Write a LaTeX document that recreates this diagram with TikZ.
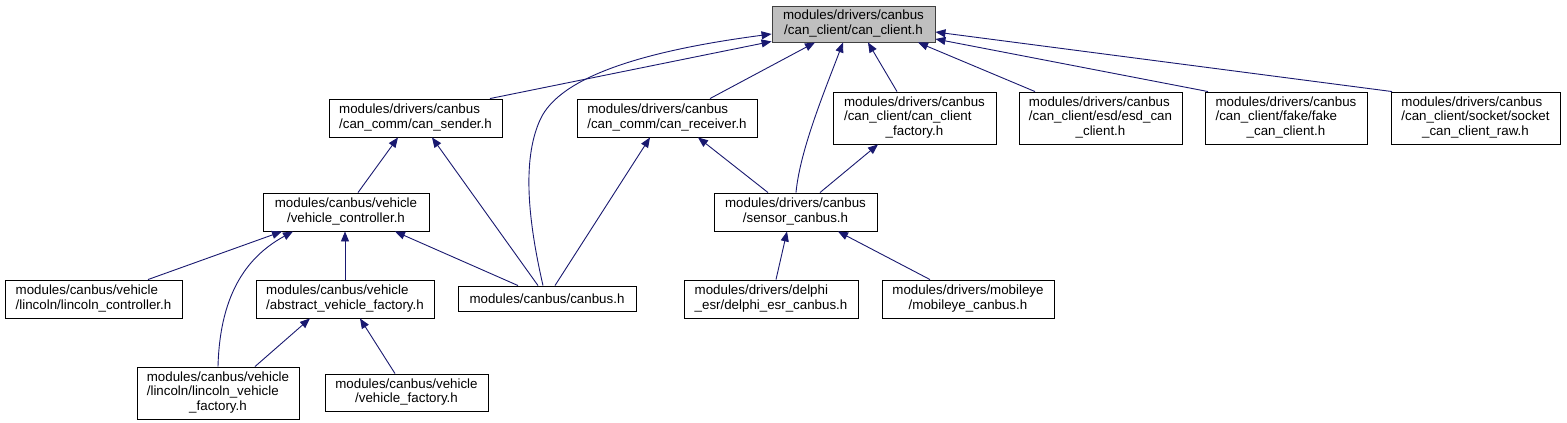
\documentclass[tikz,border=0pt]{standalone}
\usepackage{fontspec}
\setmainfont{Liberation Sans}
\usetikzlibrary{arrows.meta}
\definecolor{edgeblue}{HTML}{191970}
\definecolor{rootfill}{HTML}{BFBFBF}
\definecolor{rootline}{HTML}{404040}
\newcommand{\twol}[2]{\begin{tabular}{@{}l@{}}#1\\\multicolumn{1}{@{}c@{}}{#2}\end{tabular}}
\newcommand{\threel}[3]{\begin{tabular}{@{}l@{}}#1\\#2\\\multicolumn{1}{@{}c@{}}{#3}\end{tabular}}
\begin{document}
\begin{tikzpicture}[x=1pt,y=-1pt,
  filebox/.style={draw=black, fill=white, line width=0.9pt, inner sep=0pt,
    font=\fontsize{13.33}{14.5}\selectfont, align=center},
  rootbox/.style={filebox, fill=rootfill, draw=rootline},
  edge/.style={draw=edgeblue, line width=0.9pt,
    -{Triangle[length=10pt,width=8pt]}, fill=none},
  edge/.append style={arrows={-{Triangle[length=10pt,width=8pt,fill=edgeblue]}}}
]
\useasboundingbox[fill=white] (0,0) rectangle (1567,423);

\node[rootbox, minimum width=163pt, minimum height=36pt] (root) at (853.5,24) {\twol{modules/drivers/canbus}{/can\_client/can\_client.h}};

\node[filebox, minimum width=173pt, minimum height=38pt] (sender) at (415.5,118) {\twol{modules/drivers/canbus}{/can\_comm/can\_sender.h}};
\node[filebox, minimum width=180pt, minimum height=38pt] (receiver) at (667,118) {\twol{modules/drivers/canbus}{/can\_comm/can\_receiver.h}};
\node[filebox, minimum width=163pt, minimum height=52pt] (factory) at (914.5,118) {\threel{modules/drivers/canbus}{/can\_client/can\_client}{\_factory.h}};
\node[filebox, minimum width=163pt, minimum height=52pt] (esd) at (1100.5,118) {\threel{modules/drivers/canbus}{/can\_client/esd/esd\_can}{\_client.h}};
\node[filebox, minimum width=162pt, minimum height=52pt] (fake) at (1286,118) {\threel{modules/drivers/canbus}{/can\_client/fake/fake}{\_can\_client.h}};
\node[filebox, minimum width=169pt, minimum height=52pt] (socket) at (1475.5,118) {\threel{modules/drivers/canbus}{/can\_client/socket/socket}{\_can\_client\_raw.h}};

\node[filebox, minimum width=166pt, minimum height=38pt] (vc) at (346,212) {\twol{modules/canbus/vehicle}{/vehicle\_controller.h}};
\node[filebox, minimum width=163pt, minimum height=38pt] (sensor) at (795.5,212) {\twol{modules/drivers/canbus}{/sensor\_canbus.h}};

\node[filebox, minimum width=177pt, minimum height=38pt] (lc) at (93.5,299) {\twol{modules/canbus/vehicle}{/lincoln/lincoln\_controller.h}};
\node[filebox, minimum width=178pt, minimum height=38pt] (abstract) at (345,299) {\twol{modules/canbus/vehicle}{/abstract\_vehicle\_factory.h}};
\node[filebox, minimum width=178pt, minimum height=25pt] (canbus) at (547,298.5) {modules/canbus/canbus.h};
\node[filebox, minimum width=174pt, minimum height=38pt] (delphi) at (771,299) {\twol{modules/drivers/delphi}{\_esr/delphi\_esr\_canbus.h}};
\node[filebox, minimum width=172pt, minimum height=38pt] (mobileye) at (968,299) {\twol{modules/drivers/mobileye}{/mobileye\_canbus.h}};

\node[filebox, minimum width=162pt, minimum height=52pt] (lvf) at (218,393) {\threel{modules/canbus/vehicle}{/lincoln/lincoln\_vehicle}{\_factory.h}};
\node[filebox, minimum width=163pt, minimum height=37pt] (vf) at (406.5,392.5) {\twol{modules/canbus/vehicle}{/vehicle\_factory.h}};

% edges to root
\draw[edge] ([xshift=74.5pt]sender.north) -- ([yshift=1pt]root.south west);
\draw[edge] ([xshift=-4pt]canbus.north) .. controls (528,220) and (522,160) .. (540,120)
   .. controls (560,75) and (650,50) .. ([yshift=-10pt]root.west);
\draw[edge] ([xshift=43pt]receiver.north) -- ([xshift=-38.5pt]root.south);
\draw[edge] ([xshift=0.5pt]sensor.north) .. controls (800,150) and (825,90) .. ([xshift=-10.5pt]root.south);
\draw[edge] ([xshift=-17.5pt]factory.north) -- ([xshift=14.5pt]root.south);
\draw[edge] ([xshift=-65.5pt]esd.north) -- ([xshift=64.5pt]root.south);
\draw[edge] ([xshift=-78pt]fake.north) -- ([yshift=-15pt]root.east);
\draw[edge] ([xshift=-83.5pt]socket.north) -- ([yshift=-8pt]root.east);

% second level
\draw[edge] ([xshift=12pt]vc.north) -- ([xshift=-17.5pt]sender.south);
\draw[edge] ([xshift=-9pt]canbus.north) -- ([xshift=16.5pt]sender.south);
\draw[edge] ([xshift=8pt]canbus.north) -- ([xshift=-17pt]receiver.south);
\draw[edge] ([xshift=-27.5pt]sensor.north) -- ([xshift=31pt]receiver.south);
\draw[edge] ([xshift=24.5pt]sensor.north) -- ([xshift=-36.5pt]factory.south);

% third level
\draw[edge] ([xshift=54.5pt]lc.north) -- ([xshift=-64pt]vc.south);
\draw[edge] (lvf.north) .. controls (220,290) and (250,255) .. ([xshift=-53pt]vc.south);
\draw[edge] (abstract.north) -- ([xshift=-1pt]vc.south);
\draw[edge] ([xshift=-29pt]canbus.north) -- ([xshift=49pt]vc.south);
\draw[edge] ([xshift=5pt]delphi.north) -- ([xshift=-8.5pt]sensor.south);
\draw[edge] ([xshift=-38pt]mobileye.north) -- ([xshift=42.5pt]sensor.south);

% fourth level
\draw[edge] ([xshift=37pt]lvf.north) -- ([xshift=-35pt]abstract.south);
\draw[edge] ([xshift=-11.5pt]vf.north) -- ([xshift=15pt]abstract.south);
\end{tikzpicture}
\end{document}
